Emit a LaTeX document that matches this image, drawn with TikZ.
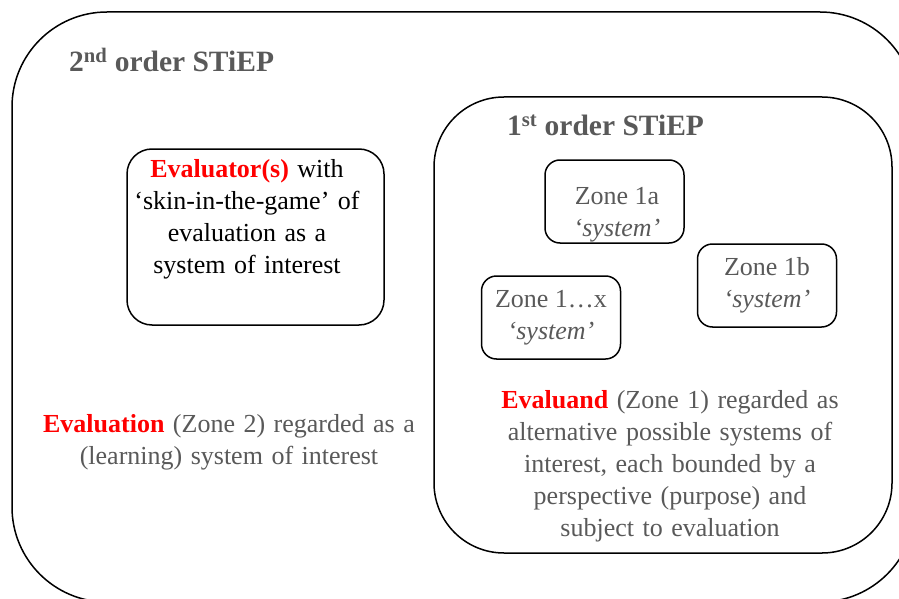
\documentclass[tikz,border=0pt]{standalone}
\usepackage{fontspec}
\setmainfont{Liberation Serif}
\definecolor{txtgray}{HTML}{595959}
\definecolor{hired}{HTML}{FF0000}
\newcommand\myWideSpace{\spaceskip=8.5pt plus 2pt\relax}
\tikzset{
  frame/.style={draw=black, line width=1.5pt},
  zonebox/.style={frame, rounded corners=15pt, minimum width=139pt, minimum height=83pt, align=center, text=txtgray, inner sep=0pt, font=\fontsize{26}{32}\selectfont},
  titletxt/.style={text=txtgray, font=\fontsize{29.5}{32}\selectfont\bfseries, inner sep=0pt},
  bodytxt/.style={align=center, font=\fontsize{26}{32}\selectfont\myWideSpace, inner sep=0pt},
}
\begin{document}
\begin{tikzpicture}[x=1pt,y=-1pt]
\useasboundingbox (0,0) rectangle (899,599);
\begin{scope}
\clip (0,0) rectangle (899,599);
\draw[frame, rounded corners=95pt] (12,12) rectangle (915,602);
\end{scope}
\draw[frame, rounded corners=70pt] (434,97) rectangle (892,553);
% titles
\node[titletxt, anchor=west] (t2) at (69,60) {2\textsuperscript{nd} order STiEP};
\node[titletxt, anchor=west] (t1) at (507,125) {1\textsuperscript{st} order STiEP};
% evaluator box
\node[frame, rounded corners=25pt, minimum width=257pt, minimum height=176pt] (evbox) at (255.5,237) {};
\node[bodytxt] (evtext) at (247,219) {{\color{hired}\bfseries Evaluator(s)} with\\`skin-in-the-game' of\\evaluation as a\\system of interest};
% zone boxes
\node[zonebox] (z1a) at (614.5,201.5) {};
\node[text=txtgray, align=center, font=\fontsize{26}{32}\selectfont, inner sep=0pt] (z1at) at (617,215) {Zone 1a\\\textit{`system'}};
\node[zonebox] (z1b) at (767,285.5) {Zone 1b\\\textit{`system'}};
\node[zonebox] (z1x) at (551,317.5) {Zone 1\ldots x\\\textit{`system'}};
% captions
\node[bodytxt, text=txtgray] (evaltxt) at (229,442) {{\color{hired}\bfseries Evaluation} (Zone 2) regarded as a\\(learning) system of interest};
\node[bodytxt, text=txtgray] (evandtxt) at (670,466) {{\color{hired}\bfseries Evaluand} (Zone 1) regarded as\\alternative possible systems of\\interest, each bounded by a\\perspective (purpose) and\\subject to evaluation};
\end{tikzpicture}
\end{document}
